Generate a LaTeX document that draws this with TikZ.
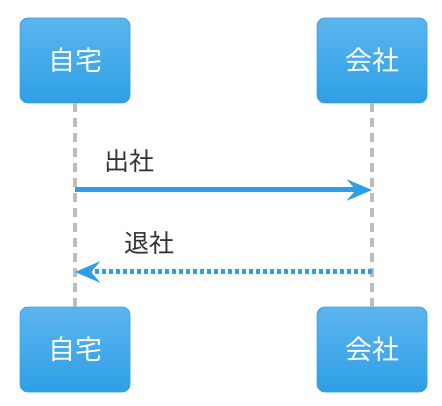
\documentclass[tikz,border=0pt]{standalone}
\usepackage{fontspec}
\newfontfamily\cjk{Noto Sans CJK JP}
\usetikzlibrary{arrows.meta}
\definecolor{boxtop}{HTML}{5BB5EE}
\definecolor{boxbot}{HTML}{2E9FE6}
\definecolor{boxline}{HTML}{3A9FE2}
\definecolor{msgblue}{HTML}{2E9FE6}
\definecolor{lifegray}{HTML}{BDBDBD}
\definecolor{labgray}{HTML}{333333}
\begin{document}
\begin{tikzpicture}[x=1pt,y=-1pt,>={Stealth[length=25pt,width=21pt,inset=9pt]},
  actor/.style={draw=boxline, line width=0.8pt, rounded corners=8pt, top color=boxtop, bottom color=boxbot,
    minimum width=110pt, minimum height=85pt, inner sep=0pt, text=white, font=\cjk\fontsize{27}{32}\selectfont},
  lifeline/.style={lifegray, line width=3.5pt, dash pattern=on 9pt off 6pt},
  msg/.style={msgblue, line width=5pt},
  msglabel/.style={text=labgray, font=\cjk\fontsize{25}{30}\selectfont}]
\useasboundingbox (0,0) rectangle (442,406);

\node(Home)[actor] at (75,60.5) {自宅};
\node(Work)[actor] at (372,60.5) {会社};
\node(HomeB)[actor] at (75,349.5) {自宅};
\node(WorkB)[actor] at (372,349.5) {会社};

\draw[lifeline] (Home.south) -- (HomeB.north);
\draw[lifeline] (Work.south) -- (WorkB.north);

\coordinate(Go1) at (75,190);
\coordinate(Go2) at (372,190);
\coordinate(Back1) at (372,272);
\coordinate(Back2) at (75,272);

\node(GoLab)[msglabel] at (129,161) {出社};
\node(BackLab)[msglabel] at (149,243) {退社};

\draw[msg] (Go1) edge[->] (Go2);
\draw[msg, dash pattern=on 4pt off 3pt] (Back1) edge[->] (Back2);
\end{tikzpicture}
\end{document}
